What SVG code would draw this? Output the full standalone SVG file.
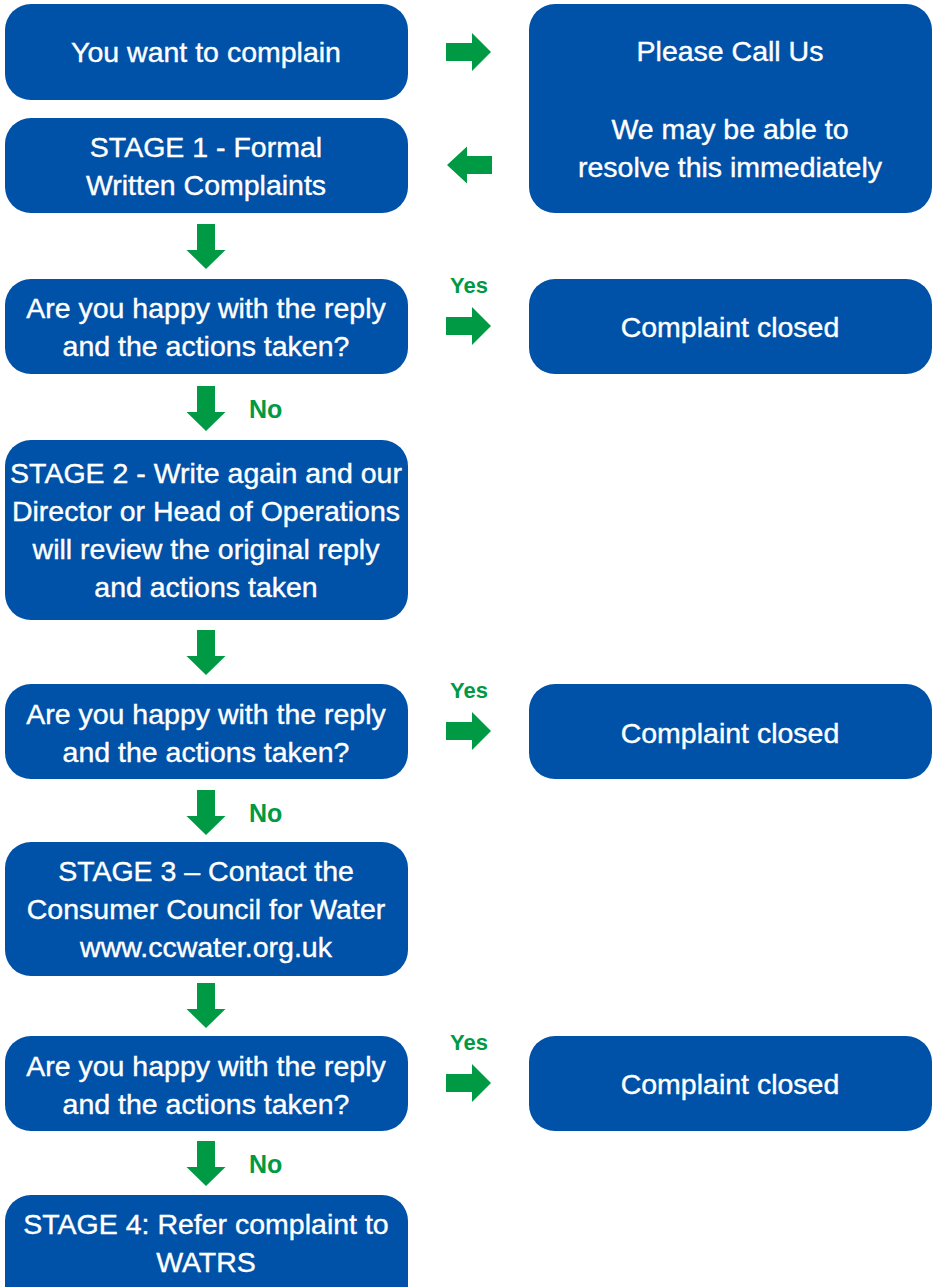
<svg xmlns="http://www.w3.org/2000/svg" width="933" height="1287" viewBox="0 0 933 1287">
<style>
.box{fill:#0051a8}
.t{font-family:"Liberation Sans",Arial,sans-serif;font-size:28.5px;fill:#ffffff;stroke:#ffffff;stroke-width:0.4;text-anchor:middle}
.arrow{fill:#009a44}
.lbl{font-family:"Liberation Sans",Arial,sans-serif;font-weight:bold;fill:#009a44}
</style>
<defs>
<path id="down" d="M-9,0 H9 V26 H19.5 L0,45 L-19.5,26 H-9 Z"/>
<path id="right" d="M0,-9 H26 V-19 L45,0 L26,19 V9 H0 Z"/>
<path id="left" d="M0,0 L20,-18.5 V-9 H45 V9 H20 V18.5 Z"/>
</defs>
<rect width="933" height="1287" fill="#ffffff"/>

<g id="n1"><rect class="box" x="5" y="4" width="403" height="96" rx="26"/><text class="t" x="206" y="62">You want to complain</text></g>
<g id="n2"><rect class="box" x="529" y="4" width="403" height="209" rx="26"/><text class="t" x="730" y="61">Please Call Us</text><text class="t" x="730" y="139">We may be able to</text><text class="t" x="730" y="177">resolve this immediately</text></g>
<g id="n3"><rect class="box" x="5" y="118" width="403" height="95" rx="26"/><text class="t" x="206" y="157">STAGE 1 - Formal</text><text class="t" x="206" y="195">Written Complaints</text></g>
<g id="n4"><rect class="box" x="5" y="279" width="403" height="95" rx="26"/><text class="t" x="206" y="318">Are you happy with the reply</text><text class="t" x="206" y="356">and the actions taken?</text></g>
<g id="n5"><rect class="box" x="529" y="279" width="403" height="95" rx="26"/><text class="t" x="730" y="337">Complaint closed</text></g>
<g id="n6"><rect class="box" x="5" y="440" width="403" height="180" rx="26"/><text class="t" x="206" y="483">STAGE 2 - Write again and our</text><text class="t" x="206" y="521">Director or Head of Operations</text><text class="t" x="206" y="559">will review the original reply</text><text class="t" x="206" y="597">and actions taken</text></g>
<g id="n7"><rect class="box" x="5" y="684" width="403" height="95" rx="26"/><text class="t" x="206" y="724">Are you happy with the reply</text><text class="t" x="206" y="762">and the actions taken?</text></g>
<g id="n8"><rect class="box" x="529" y="684" width="403" height="95" rx="26"/><text class="t" x="730" y="743">Complaint closed</text></g>
<g id="n9"><rect class="box" x="5" y="842" width="403" height="134" rx="26"/><text class="t" x="206" y="881">STAGE 3 – Contact the</text><text class="t" x="206" y="919">Consumer Council for Water</text><text class="t" x="206" y="957">www.ccwater.org.uk</text></g>
<g id="n10"><rect class="box" x="5" y="1036" width="403" height="95" rx="26"/><text class="t" x="206" y="1076">Are you happy with the reply</text><text class="t" x="206" y="1114">and the actions taken?</text></g>
<g id="n11"><rect class="box" x="529" y="1036" width="403" height="95" rx="26"/><text class="t" x="730" y="1094">Complaint closed</text></g>
<g id="n12"><rect class="box" x="5" y="1195" width="403" height="120" rx="26"/><text class="t" x="206" y="1234">STAGE 4: Refer complaint to</text><text class="t" x="206" y="1272">WATRS</text></g>

<g id="connectors" class="arrow">
<use href="#right" x="446" y="52"/>
<use href="#left" x="447" y="165"/>
<use href="#down" x="206" y="224"/>
<use href="#right" x="446" y="326"/>
<use href="#down" x="206" y="386"/>
<use href="#down" x="206" y="630"/>
<use href="#right" x="446" y="731"/>
<use href="#down" x="206" y="790"/>
<use href="#down" x="206" y="983"/>
<use href="#right" x="446" y="1083"/>
<use href="#down" x="206" y="1141"/>
<text class="lbl" x="469" y="293" font-size="22" text-anchor="middle">Yes</text>
<text class="lbl" x="249" y="418" font-size="25">No</text>
<text class="lbl" x="469" y="698" font-size="22" text-anchor="middle">Yes</text>
<text class="lbl" x="249" y="822" font-size="25">No</text>
<text class="lbl" x="469" y="1050" font-size="22" text-anchor="middle">Yes</text>
<text class="lbl" x="249" y="1173" font-size="25">No</text>
</g>
</svg>
